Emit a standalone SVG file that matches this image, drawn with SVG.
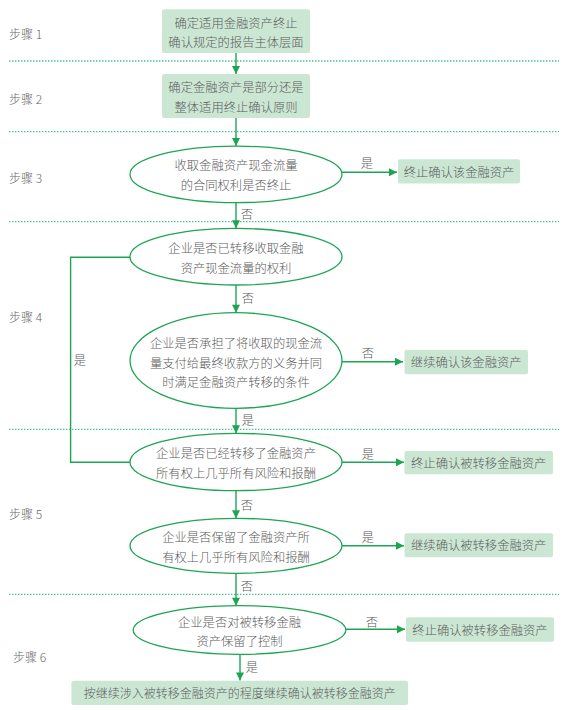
<svg xmlns="http://www.w3.org/2000/svg" width="582" height="710" viewBox="0 0 582 710">
<style>
text{font-family:"Noto Sans CJK SC","Liberation Sans",sans-serif;fill:#5c5c5c;font-size:12.3px;font-weight:300;text-anchor:middle;dominant-baseline:central}
.step{text-anchor:start;font-size:12px;fill:#666}
.box{fill:#cbe7d4;stroke:none}
.ell{fill:#fff;stroke:#1ea552;stroke-width:1.3}
.sep{stroke:#45c08a;stroke-width:1.3;stroke-dasharray:1.4 1.6}
.con{stroke:#1ea552;stroke-width:1.4;fill:none}
.arr{marker-end:url(#ah)}
</style>
<defs>
<marker id="ah" viewBox="0 0 10 10" refX="10" refY="5" markerWidth="9" markerHeight="8" markerUnits="userSpaceOnUse" orient="auto">
<path d="M0,0 L10,5 L0,10 z" fill="#1ea552"/>
</marker>
</defs>
<rect width="582" height="710" fill="#fff"/>
<g id="separators">
<line class="sep" x1="9" y1="61" x2="559" y2="61"/>
<line class="sep" x1="9" y1="131.7" x2="559" y2="131.7"/>
<line class="sep" x1="9" y1="221.7" x2="559" y2="221.7"/>
<line class="sep" x1="9" y1="429.3" x2="559" y2="429.3"/>
<line class="sep" x1="9" y1="594.3" x2="559" y2="594.3"/>
</g>
<g id="steps">
<text class="step" x="9" y="33">步骤 1</text>
<text class="step" x="9" y="98">步骤 2</text>
<text class="step" x="9" y="177">步骤 3</text>
<text class="step" x="9" y="316.7">步骤 4</text>
<text class="step" x="9" y="513.3">步骤 5</text>
<text class="step" x="13" y="656.7">步骤 6</text>
</g>
<g id="connectors">
<line class="con arr" x1="236" y1="53" x2="236" y2="74"/>
<line class="con arr" x1="236" y1="118" x2="236" y2="146"/>
<line class="con arr" x1="342" y1="172.3" x2="397" y2="172.3"/>
<line class="con arr" x1="236" y1="202.7" x2="236" y2="228.3"/>
<line class="con arr" x1="236" y1="285" x2="236" y2="312.7"/>
<line class="con arr" x1="342" y1="361.7" x2="403" y2="361.7"/>
<line class="con arr" x1="236" y1="408.3" x2="236" y2="433.3"/>
<path class="con" d="M130,257.3 H70.6 V462.3 H130"/>
<line class="con arr" x1="342" y1="462.3" x2="404" y2="462.3"/>
<line class="con arr" x1="236" y1="490.7" x2="236" y2="518.3"/>
<line class="con arr" x1="342" y1="545.7" x2="404" y2="545.7"/>
<line class="con arr" x1="236" y1="573.3" x2="236" y2="605.8"/>
<line class="con arr" x1="346" y1="629.3" x2="405" y2="629.3"/>
<line class="con arr" x1="240" y1="654.3" x2="240" y2="680.5"/>
<text x="367" y="163">是</text>
<text x="247" y="214">否</text>
<text x="248" y="298">否</text>
<text x="80" y="360">是</text>
<text x="368" y="353">否</text>
<text x="248" y="420">是</text>
<text x="368" y="454">是</text>
<text x="247" y="505">否</text>
<text x="368" y="537">是</text>
<text x="247" y="586">否</text>
<text x="372" y="621.7">否</text>
<text x="252" y="667">是</text>
</g>
<g id="n1">
<rect class="box" x="162" y="9.3" width="148" height="43.7" rx="2"/>
<text x="236" y="22.7">确定适用金融资产终止</text>
<text x="236" y="41.7">确认规定的报告主体层面</text>
</g>
<g id="n2">
<rect class="box" x="162" y="74" width="148" height="44" rx="2"/>
<text x="236" y="87">确定金融资产是部分还是</text>
<text x="236" y="107">整体适用终止确认原则</text>
</g>
<g id="n3">
<ellipse class="ell" cx="236" cy="174.4" rx="106" ry="28.3"/>
<text x="236" y="165">收取金融资产现金流量</text>
<text x="236" y="185">的合同权利是否终止</text>
</g>
<g id="n3y">
<rect class="box" x="398" y="159.3" width="122" height="24.3" rx="2"/>
<text x="459" y="171.5">终止确认该金融资产</text>
</g>
<g id="n4">
<ellipse class="ell" cx="236" cy="256.7" rx="106" ry="28.3"/>
<text x="236" y="248.3">企业是否已转移收取金融</text>
<text x="236" y="268.3">资产现金流量的权利</text>
</g>
<g id="n5">
<ellipse class="ell" cx="236" cy="360.5" rx="106" ry="47.8"/>
<text x="236" y="343.3">企业是否承担了将收取的现金流</text>
<text x="236" y="362.7">量支付给最终收款方的义务并同</text>
<text x="236" y="381.7">时满足金融资产转移的条件</text>
</g>
<g id="n5n">
<rect class="box" x="404.5" y="350" width="123.5" height="24.3" rx="2"/>
<text x="466.2" y="362.2">继续确认该金融资产</text>
</g>
<g id="n6">
<ellipse class="ell" cx="236" cy="462" rx="106" ry="28.7"/>
<text x="236" y="453.3">企业是否已经转移了金融资产</text>
<text x="236" y="473.3">所有权上几乎所有风险和报酬</text>
</g>
<g id="n6y">
<rect class="box" x="404.5" y="451" width="148.5" height="23.3" rx="2"/>
<text x="478.7" y="462.7">终止确认被转移金融资产</text>
</g>
<g id="n7">
<ellipse class="ell" cx="236" cy="545.8" rx="106" ry="27.5"/>
<text x="236" y="537.3">企业是否保留了金融资产所</text>
<text x="236" y="556.7">有权上几乎所有风险和报酬</text>
</g>
<g id="n7y">
<rect class="box" x="404.5" y="533.3" width="148.5" height="24" rx="2"/>
<text x="478.7" y="545.3">继续确认被转移金融资产</text>
</g>
<g id="n8">
<ellipse class="ell" cx="239.5" cy="630" rx="106.3" ry="24.3"/>
<text x="239.5" y="621.7">企业是否对被转移金融</text>
<text x="239.5" y="641">资产保留了控制</text>
</g>
<g id="n8n">
<rect class="box" x="406" y="617.3" width="148" height="24.4" rx="2"/>
<text x="480" y="629.5">终止确认被转移金融资产</text>
</g>
<g id="n9">
<rect class="box" x="71.4" y="680.7" width="336.6" height="24.3" rx="2"/>
<text x="239.7" y="692.9" style="font-size:12px">按继续涉入被转移金融资产的程度继续确认被转移金融资产</text>
</g>
</svg>
